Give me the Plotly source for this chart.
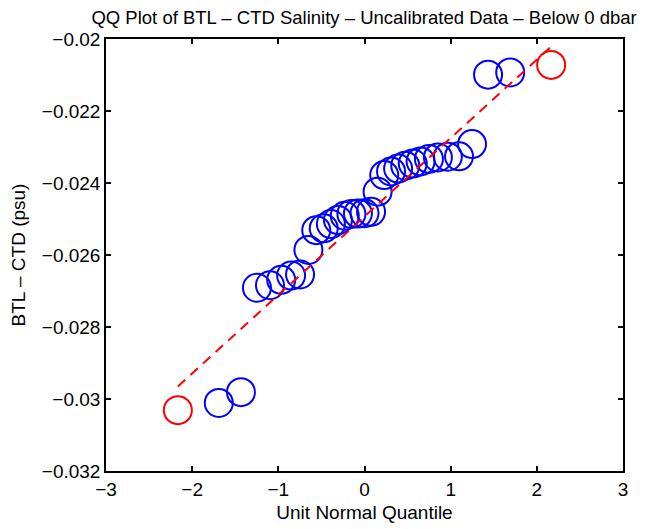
import plotly.graph_objects as go

# Unit normal quantiles (n = 33) and sorted BTL - CTD salinity differences (psu)
quantiles = [-2.166, -1.691, -1.434, -1.248, -1.097, -0.967, -0.852, -0.748, -0.651,
             -0.560, -0.473, -0.390, -0.308, -0.229, -0.152, -0.076, 0.0,
             0.076, 0.152, 0.229, 0.308, 0.390, 0.473, 0.560, 0.651, 0.748,
             0.852, 0.967, 1.097, 1.248, 1.434, 1.691, 2.166]
differences = [-0.03031, -0.03011, -0.02981, -0.02691, -0.02684, -0.02669, -0.02657,
               -0.02654, -0.02586, -0.02531, -0.02526, -0.02514, -0.02503, -0.02491,
               -0.02486, -0.02485, -0.02484, -0.02480, -0.02424, -0.02378, -0.02368,
               -0.02360, -0.02352, -0.02346, -0.02340, -0.02333, -0.02329, -0.02327,
               -0.02326, -0.02292, -0.02099, -0.02093, -0.02072]

# Extreme points (highlighted in red)
extreme_x = [-2.166, 2.166]
extreme_y = [-0.03031, -0.02072]

# Reference line endpoints
line_x = [-2.166, 2.166]
line_y = [-0.02965, -0.02021]

x_ticks = [-3, -2, -1, 0, 1, 2, 3]
x_ticktext = ["\u22123", "\u22122", "\u22121", "0", "1", "2", "3"]
y_ticks = [-0.032, -0.030, -0.028, -0.026, -0.024, -0.022, -0.020]
y_ticktext = ["\u22120.032", "\u22120.03", "\u22120.028", "\u22120.026",
              "\u22120.024", "\u22120.022", "\u22120.02"]

FONT = "Liberation Sans, Arial, Helvetica, sans-serif"
FS = 19

fig = go.Figure()
fig.add_trace(go.Scatter(
    x=quantiles[1:-1], y=differences[1:-1], mode="markers",
    marker=dict(symbol="circle-open", size=28, color="#0000FF",
                line=dict(width=2, color="#0000FF")),
    showlegend=False, hoverinfo="skip"))
fig.add_trace(go.Scatter(
    x=extreme_x, y=extreme_y, mode="markers",
    marker=dict(symbol="circle-open", size=28, color="#FF0000",
                line=dict(width=2, color="#FF0000")),
    showlegend=False, hoverinfo="skip"))
fig.add_trace(go.Scatter(
    x=line_x, y=line_y, mode="lines",
    line=dict(color="#FF0000", width=2, dash="10px,7px"),
    showlegend=False, hoverinfo="skip"))

axis_common = dict(
    showline=True, linecolor="black", linewidth=1.5, mirror="ticks",
    ticks="inside", ticklen=5, tickwidth=1.5, tickcolor="black",
    showgrid=False, zeroline=False,
    tickfont=dict(family=FONT, size=FS, color="black"),
)

fig.update_layout(
    width=644, height=521,
    margin=dict(l=98, r=29, t=31, b=58, autoexpand=False),
    paper_bgcolor="white", plot_bgcolor="white",
    font=dict(family=FONT, size=FS, color="black"),
    title=dict(text="QQ Plot of BTL \u2013 CTD Salinity \u2013 Uncalibrated Data \u2013 Below 0 dbar",
               x=0.553, xanchor="center", y=0.981, yanchor="middle",
               font=dict(family=FONT, size=18.5, color="black")),
    xaxis=dict(range=[-3, 3], tickvals=x_ticks, ticktext=x_ticktext,
               title=dict(text="Unit Normal Quantile", standoff=7,
                          font=dict(family=FONT, size=FS, color="black")),
               **axis_common),
    yaxis=dict(range=[-0.032, -0.020], tickvals=y_ticks, ticktext=y_ticktext,
               title=dict(text="BTL \u2013 CTD (psu)", standoff=13,
                          font=dict(family=FONT, size=FS, color="black")),
               **axis_common),
)

fig.write_html("out.html")
